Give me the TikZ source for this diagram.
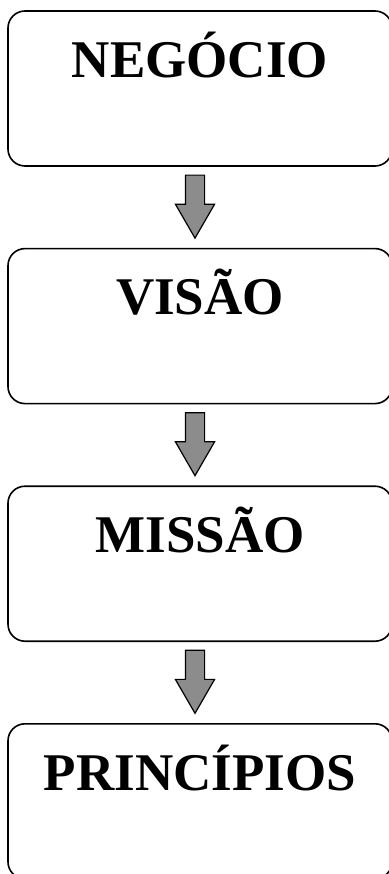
\documentclass[tikz,border=0pt]{standalone}
\usepackage{fontspec}
\setmainfont{Liberation Serif}
\usetikzlibrary{positioning, calc, shapes.arrows}
\definecolor{arrowfill}{HTML}{8C8C8C}

\begin{document}
\begin{tikzpicture}[
  x=1pt, y=1pt,
  stage/.style={draw, line width=1.6pt, rounded corners=17pt, minimum width=384pt, minimum height=155pt, inner sep=0pt},
  title/.style={font=\fontsize{53}{60}\selectfont\bfseries, inner sep=0pt, anchor=base},
  down/.style={single arrow, draw, line width=1.2pt, fill=arrowfill, rotate=-90, inner xsep=0pt, inner ysep=9pt,
    minimum height=63pt, single arrow head extend=10pt, single arrow tip angle=60}
]
\useasboundingbox (0,0) rectangle (388,-874);

% four stacked stages
\node[stage] (negocio) at (200,-88.5) {};
\node[stage, below=81pt of negocio] (visao) {};
\node[stage, below=81pt of visao] (missao) {};
\node[stage, below=81pt of missao] (principios) {};

\node[title] (tnegocio) at ([yshift=-67pt]negocio.north) {NEGÓCIO};
\node[title] (tvisao) at ([yshift=-67pt]visao.north) {VISÃO};
\node[title] (tmissao) at ([yshift=-67pt]missao.north) {MISSÃO};
\node[title] (tprincipios) at ([yshift=-67pt]principios.north) {PRINCÍPIOS};

% block arrows between the stages (the shape's centre sits on the shaft, so lift it)
\node[down] (a1) at ($(negocio.south)!0.5!(visao.north)+(-5,9)$) {};
\node[down] (a2) at ($(visao.south)!0.5!(missao.north)+(-5,9)$) {};
\node[down] (a3) at ($(missao.south)!0.5!(principios.north)+(-5,9)$) {};
\end{tikzpicture}
\end{document}
